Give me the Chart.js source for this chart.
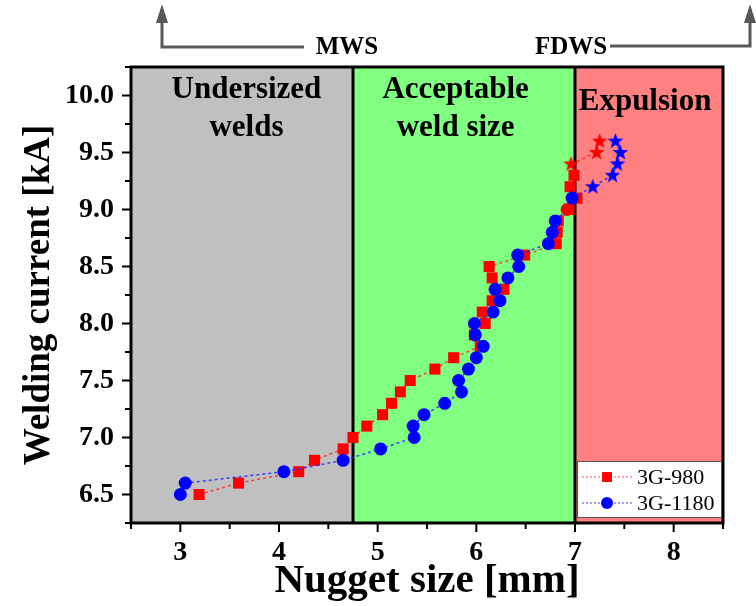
<!DOCTYPE html>
<html>
<head>
<meta charset="utf-8">
<script src="https://cdn.jsdelivr.net/npm/chart.js@4.4.0/dist/chart.umd.min.js"></script>
<style>
  html, body { margin: 0; padding: 0; background: #fff; }
  #wrap { width: 756px; height: 606px; }
</style>
</head>
<body>
<div id="wrap"><canvas id="weldChart" width="756" height="606"></canvas></div>
<script>
// welding current steps (kA) and measured nugget size (mm)
const current980 = [6.5, 6.6, 6.7, 6.8, 6.9, 7.0, 7.1, 7.2, 7.3, 7.4, 7.5, 7.6, 7.7, 7.8, 7.9, 8.0,
  8.1, 8.2, 8.3, 8.4, 8.5, 8.6, 8.7, 8.8, 8.9, 9.0, 9.1, 9.2, 9.3, 9.4, 9.5, 9.6];
const nugget980 = [3.19, 3.59, 4.20, 4.36, 4.65, 4.75, 4.89, 5.05, 5.14, 5.23, 5.33, 5.58, 5.77, 6.04, 5.98, 6.09,
  6.06, 6.16, 6.28, 6.16, 6.13, 6.49, 6.81, 6.82, 6.83, 6.94, 7.02, 6.95, 6.99, 6.96, 7.22, 7.25];
const current1180 = [6.5, 6.6, 6.7, 6.8, 6.9, 7.0, 7.1, 7.2, 7.3, 7.4, 7.5, 7.6, 7.7, 7.8, 7.9, 8.0,
  8.1, 8.2, 8.3, 8.4, 8.5, 8.6, 8.7, 8.8, 8.9, 9.0, 9.1, 9.2, 9.3, 9.4, 9.5, 9.6];
const nugget1180 = [3.00, 3.05, 4.05, 4.65, 5.03, 5.37, 5.36, 5.47, 5.68, 5.85, 5.82, 5.92, 6.00, 6.07, 5.99, 5.98,
  6.17, 6.24, 6.19, 6.32, 6.43, 6.42, 6.73, 6.77, 6.80, 6.92, 6.97, 7.18, 7.38, 7.43, 7.46, 7.41];
// currents where expulsion happened (drawn as stars)
const expulsion980 = [9.4, 9.5, 9.6];
const expulsion1180 = [9.2, 9.3, 9.4, 9.5, 9.6];
const oddRedPoint1180 = [9.0];

const xTicks = [3, 4, 5, 6, 7, 8];
const yTicks = [6.5, 7.0, 7.5, 8.0, 8.5, 9.0, 9.5, 10.0];
const mwsLimit = 4.75;
const fdwsLimit = 7.0;

const zones = [
  { from: 2.5, to: mwsLimit, color: '#c0c0c0', lines: ['Undersized', 'welds'], labelX: 3.67 },
  { from: mwsLimit, to: fdwsLimit, color: '#80ff80', lines: ['Acceptable', 'weld size'], labelX: 5.79 },
  { from: fdwsLimit, to: 8.5, color: '#ff8080', lines: ['Expulsion'], labelX: 7.71 }
];

const serif = "'Liberation Serif', 'Times New Roman', serif";

function makeStar(color) {
  const c = document.createElement('canvas');
  c.width = 17; c.height = 17;
  const g = c.getContext('2d');
  g.fillStyle = color;
  g.beginPath();
  for (let i = 0; i < 10; i++) {
    const r = i % 2 === 0 ? 8.3 : 3.4;
    const a = -Math.PI / 2 + i * Math.PI / 5;
    g.lineTo(8.5 + r * Math.cos(a), 8.8 + r * Math.sin(a));
  }
  g.closePath();
  g.fill();
  return c;
}
const redStar = makeStar('#ff0000');
const blueStar = makeStar('#0000ff');

const pts = (xs, ys) => xs.map((v, i) => ({ x: v, y: ys[i] }));

const decor = {
  id: 'decor',
  beforeDatasetsDraw(chart) {
    const { ctx, chartArea: a, scales: { x, y } } = chart;
    ctx.save();
    zones.forEach(z => {
      const l = x.getPixelForValue(z.from), r = x.getPixelForValue(z.to);
      ctx.fillStyle = z.color;
      ctx.fillRect(l, a.top, r - l, a.bottom - a.top);
    });
    ctx.strokeStyle = '#000';
    ctx.lineWidth = 3;
    [mwsLimit, fdwsLimit].forEach(v => {
      const px = x.getPixelForValue(v);
      ctx.beginPath(); ctx.moveTo(px, a.top); ctx.lineTo(px, a.bottom); ctx.stroke();
    });
    ctx.fillStyle = '#000';
    ctx.font = 'bold 31px ' + serif;
    ctx.textAlign = 'center';
    ctx.textBaseline = 'middle';
    zones.forEach(z => {
      const px = x.getPixelForValue(z.labelX);
      if (z.lines.length === 1) ctx.fillText(z.lines[0], px, a.top + 35);
      else z.lines.forEach((t, i) => ctx.fillText(t, px, a.top + 23 + i * 38));
    });
    ctx.restore();
  },
  afterDraw(chart) {
    const { ctx, chartArea: a, scales: { x, y } } = chart;
    ctx.save();
    // frame
    ctx.strokeStyle = '#000';
    ctx.lineWidth = 3;
    ctx.strokeRect(a.left, a.top, a.right - a.left, a.bottom - a.top);
    // tick marks
    ctx.lineWidth = 2;
    ctx.beginPath();
    for (let v = 2.5; v <= 8.5001; v += 0.5) {
      const px = x.getPixelForValue(v);
      const len = Math.abs(v - Math.round(v)) < 0.01 ? 9 : 6;
      ctx.moveTo(px, a.bottom); ctx.lineTo(px, a.bottom + len);
    }
    for (let v = 6.25; v <= 10.2501; v += 0.25) {
      const py = y.getPixelForValue(v);
      const len = Math.abs(v * 2 - Math.round(v * 2)) < 0.01 ? 9 : 6;
      ctx.moveTo(a.left, py); ctx.lineTo(a.left - len, py);
    }
    ctx.stroke();

    // legend
    const lx = 577, ly = 461, lw = 144, lh = 56;
    ctx.fillStyle = '#fff';
    ctx.fillRect(lx, ly, lw, lh);
    ctx.strokeStyle = '#555';
    ctx.lineWidth = 1;
    ctx.strokeRect(lx + 0.5, ly + 0.5, lw, lh);
    chart.data.datasets.slice().reverse().forEach((ds, i) => {
      const ry = ly + 16 + i * 26;
      ctx.strokeStyle = ds.borderColor;
      ctx.lineWidth = 1.2;
      ctx.setLineDash([2, 2]);
      ctx.beginPath(); ctx.moveTo(lx + 5, ry); ctx.lineTo(lx + 56, ry); ctx.stroke();
      ctx.setLineDash([]);
      ctx.fillStyle = ds.legendColor;
      Chart.helpers.drawPoint(ctx, {
        pointStyle: ds.legendStyle, radius: ds.legendStyle === 'rect' ? 7 : 6, borderWidth: 0, rotation: 0
      }, lx + 30, ry);
      ctx.fillStyle = '#000';
      ctx.font = '22px ' + serif;
      ctx.textAlign = 'left';
      ctx.textBaseline = 'middle';
      ctx.fillText(ds.label, lx + 60, ry + 1);
    });

    // MWS / FDWS arrows
    const mx = x.getPixelForValue(mwsLimit), fx = x.getPixelForValue(fdwsLimit);
    ctx.strokeStyle = '#595959';
    ctx.fillStyle = '#595959';
    ctx.lineWidth = 3;
    ctx.beginPath();
    ctx.moveTo(mx - 49, 47); ctx.lineTo(162, 47); ctx.lineTo(162, 20);
    ctx.moveTo(fx + 35, 46); ctx.lineTo(750, 46); ctx.lineTo(750, 20);
    ctx.stroke();
    [162, 750].forEach(ax => {
      ctx.beginPath(); ctx.moveTo(ax, 4); ctx.lineTo(ax - 6, 23); ctx.lineTo(ax + 6, 23); ctx.closePath(); ctx.fill();
    });
    ctx.fillStyle = '#000';
    ctx.font = 'bold 25px ' + serif;
    ctx.textAlign = 'center';
    ctx.textBaseline = 'middle';
    ctx.fillText('MWS', mx - 6, 48);
    ctx.fillText('FDWS', fx - 4, 48);
    ctx.restore();
  }
};

new Chart(document.getElementById('weldChart'), {
  type: 'scatter',
  data: {
    datasets: [
      {
        label: '3G-1180',
        data: pts(nugget1180, current1180),
        showLine: true,
        order: 0,
        borderColor: 'rgba(40,40,255,0.85)',
        borderWidth: 1.5,
        borderDash: [3, 3],
        pointStyle: current1180.map(c => expulsion1180.includes(c) ? blueStar : 'circle'),
        pointBackgroundColor: current1180.map(c => oddRedPoint1180.includes(c) ? '#ff0000' : '#0000ff'),
        pointBorderWidth: 0,
        pointRadius: 6.5,
        legendStyle: 'circle',
        legendColor: '#0000ff'
      },
      {
        label: '3G-980',
        data: pts(nugget980, current980),
        showLine: true,
        order: 1,
        borderColor: 'rgba(255,40,40,0.85)',
        borderWidth: 1.5,
        borderDash: [3, 3],
        pointStyle: current980.map(c => expulsion980.includes(c) ? redStar : 'rect'),
        pointBackgroundColor: '#ff0000',
        pointBorderWidth: 0,
        pointRadius: 7.8,
        legendStyle: 'rect',
        legendColor: '#ff0000'
      }
    ]
  },
  options: {
    responsive: false,
    animation: false,
    layout: { padding: { top: 67, right: 33, left: 0, bottom: 0 } },
    plugins: { legend: { display: false }, tooltip: { enabled: false } },
    scales: {
      x: {
        type: 'linear',
        min: 2.5, max: 8.5,
        afterBuildTicks: s => { s.ticks = xTicks.map(v => ({ value: v })); },
        afterFit: s => { s.height = 83; },
        grid: { display: false },
        border: { display: false },
        ticks: { color: '#000', font: { family: serif, size: 28, weight: 'bold' }, padding: 5, maxRotation: 0 },
        title: { display: true, text: 'Nugget size [mm]', color: '#000', font: { family: serif, size: 41, weight: 'bold' }, padding: { top: 0, bottom: 0 } }
      },
      y: {
        type: 'linear',
        min: 6.25, max: 10.25,
        afterBuildTicks: s => { s.ticks = yTicks.map(v => ({ value: v })); },
        afterFit: s => { s.width = 131; },
        grid: { display: false },
        border: { display: false },
        ticks: { color: '#000', font: { family: serif, size: 28, weight: 'bold' }, padding: 9, callback: v => v.toFixed(1) },
        title: { display: true, text: 'Welding current [kA]', color: '#000', font: { family: serif, size: 37, weight: 'bold' }, padding: { top: 17, bottom: 0 } }
      }
    }
  },
  plugins: [decor]
});
</script>
</body>
</html>
